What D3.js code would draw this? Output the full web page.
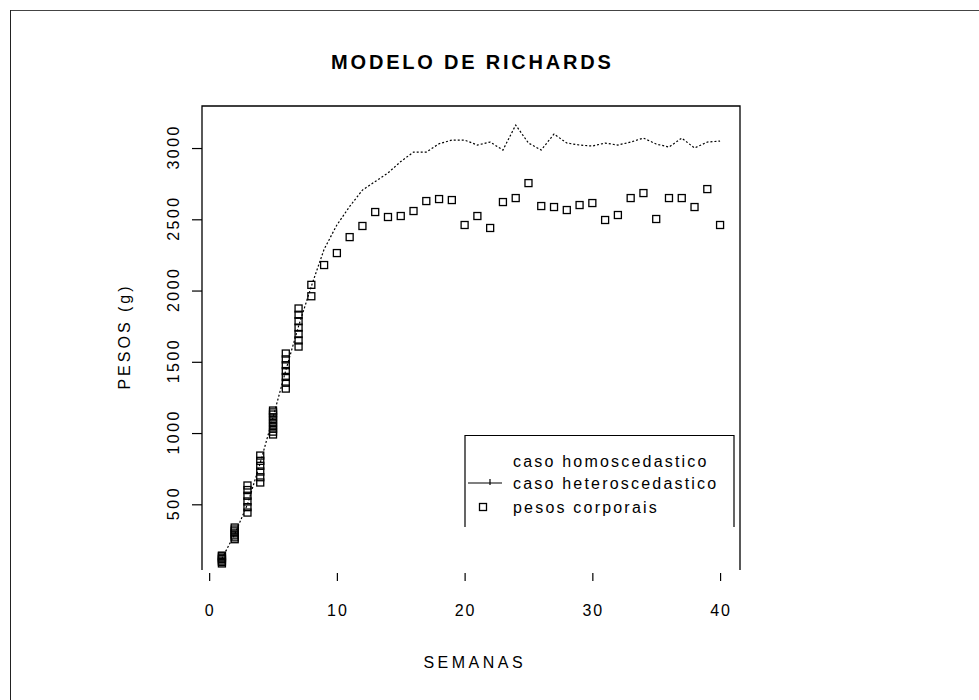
<!DOCTYPE html>
<html><head><meta charset="utf-8">
<script src="https://cdn.jsdelivr.net/npm/d3@7/dist/d3.min.js"></script>
<style>
body{margin:0;background:#fff}
text{font-family:"Liberation Sans",Arial,sans-serif;fill:#000}
</style>
</head><body>
<svg id="chart" width="979" height="700"></svg>
<script>
// ---- data ----
const titulo = "MODELO DE RICHARDS";
const xTitulo = "SEMANAS";
const yTitulo = "PESOS (g)";
const semanas = [1,2,3,4,5,6,7,8,9,10,11,12,13,14,15,16,17,18,19,20,21,22,23,24,25,26,27,28,29,30,31,32,33,34,35,36,37,38,39,40];
const casoHeteroscedastico = [120,290,500,790,1110,1440,1750,2030,2290,2460,2590,2705,2765,2825,2905,2972,2972,3030,3056,3056,3021,3042,2986,3161,3035,2986,3098,3035,3021,3014,3035,3021,3042,3070,3028,3007,3070,3000,3042,3049];
const pesoSemana = [1,1,1,1,1,1,1, 2,2,2,2,2,2,2, 3,3,3,3,3,3, 4,4,4,4,4,4, 5,5,5,5,5,5,5,5,5,5, 6,6,6,6,6,6,6, 7,7,7,7,7,7,7, 8,8,
  9,10,11,12,13,14,15,16,17,18,19,20,21,22,23,24,25,26,27,28,29,30,31,32,33,34,35,36,37,38,39,40];
const pesoValor = [85,95,105,115,125,135,140, 255,268,282,296,310,323,337, 442,480,520,560,600,632, 653,690,730,770,805,842, 990,1010,1030,1050,1070,1090,1110,1130,1145,1158, 1312,1353,1394,1435,1476,1517,1558, 1607,1650,1695,1740,1785,1830,1874, 1960,2040,
  2179,2263,2375,2453,2551,2516,2523,2558,2628,2642,2635,2460,2523,2439,2621,2649,2754,2593,2586,2565,2600,2614,2495,2530,2649,2684,2502,2649,2649,2586,2712,2460];
const xTicks = [0,10,20,30,40];
const yTicks = [500,1000,1500,2000,2500,3000];
const legendLabels = ["caso homoscedastico","caso heteroscedastico","pesos corporais"];

// ---- layout ----
const svg = d3.select("#chart");
const L = 202, R = 740, T = 106, B = 570;
const x = d3.scaleLinear().domain([-0.56, 41.56]).range([L, R]);
const y = d3.scaleLinear().domain([39, 3295]).range([B, T]);

// outer frame
svg.append("line").attr("x1",10).attr("x2",979).attr("y1",10.5).attr("y2",10.5).attr("stroke","#444").attr("stroke-width",1);
svg.append("line").attr("x1",10.5).attr("x2",10.5).attr("y1",10).attr("y2",700).attr("stroke","#222").attr("stroke-width",1);

// plot box (top, left, right)
svg.append("path").attr("d",`M${L},${B}V${T}H${R}V${B}`).attr("fill","none").attr("stroke","#000").attr("stroke-width",1.3);

// axes
const xAxis = d3.axisBottom(x).tickValues(xTicks).tickSize(8).tickFormat("");
const gx = svg.append("g").attr("transform",`translate(0,${B+3})`).call(xAxis);
gx.select(".domain").remove();
gx.selectAll(".tick line").attr("stroke","#000").attr("stroke-width",1.2);
const yAxis = d3.axisLeft(y).tickValues(yTicks).tickSize(10).tickFormat("");
const gy = svg.append("g").attr("transform",`translate(${L},0)`).call(yAxis);
gy.select(".domain").remove();
gy.selectAll(".tick line").attr("stroke","#000").attr("stroke-width",1.2);

// tick labels
const lsX = 2, lsY = 2.5;
svg.append("g").selectAll("text").data(xTicks).join("text")
  .attr("x", d => x(d) + lsX/2).attr("y", 616)
  .attr("text-anchor","middle").attr("font-size",16).attr("letter-spacing",lsX)
  .text(d => d);
svg.append("g").selectAll("text").data(yTicks).join("text")
  .attr("transform", d => `translate(179,${y(d) - lsY/2}) rotate(-90)`)
  .attr("text-anchor","middle").attr("font-size",16).attr("letter-spacing",lsY)
  .text(d => d);

// titles
svg.append("text").attr("x",471 + 1.4).attr("y",69).attr("text-anchor","middle")
  .attr("font-size",20).attr("font-weight","bold").attr("letter-spacing",2.8).text(titulo);
svg.append("text").attr("x",473 + 1.75).attr("y",668).attr("text-anchor","middle")
  .attr("font-size",16).attr("letter-spacing",3.5).text(xTitulo);
svg.append("text").attr("transform",`translate(130,${338 - 1.5}) rotate(-90)`).attr("text-anchor","middle")
  .attr("font-size",16).attr("letter-spacing",3).text(yTitulo);

// line series
const line = d3.line().x((d,i) => x(semanas[i])).y(d => y(d));
svg.append("path").datum(casoHeteroscedastico).attr("d", line)
  .attr("fill","none").attr("stroke","#000").attr("stroke-width",1.2).attr("stroke-dasharray","2,2");

// squares
const S = 7;
svg.append("g").selectAll("rect").data(pesoValor).join("rect")
  .attr("x",(d,i) => x(pesoSemana[i]) - S/2).attr("y", d => y(d) - S/2)
  .attr("width",S).attr("height",S).attr("fill","none").attr("stroke","#000").attr("stroke-width",1.3);

// legend
const lg = svg.append("g");
lg.append("path").attr("d","M465,527V435.5H734V527").attr("fill","none").attr("stroke","#000").attr("stroke-width",1.2);
const rowsY = [461, 483, 507];
lg.selectAll("text").data(legendLabels).join("text")
  .attr("x",513).attr("y",(d,i)=>rowsY[i]+6).attr("font-size",16).attr("letter-spacing",2.2)
  .text(d=>d);
lg.append("line").attr("x1",468).attr("x2",502).attr("y1",rowsY[1]).attr("y2",rowsY[1]).attr("stroke","#000").attr("stroke-width",1.2);
lg.append("line").attr("x1",490).attr("x2",490).attr("y1",rowsY[1]-4).attr("y2",rowsY[1]+2).attr("stroke","#000").attr("stroke-width",1.2);
lg.append("rect").attr("x",483-S/2).attr("y",rowsY[2]-S/2).attr("width",S).attr("height",S)
  .attr("fill","none").attr("stroke","#000").attr("stroke-width",1.3);
</script>
</body></html>
